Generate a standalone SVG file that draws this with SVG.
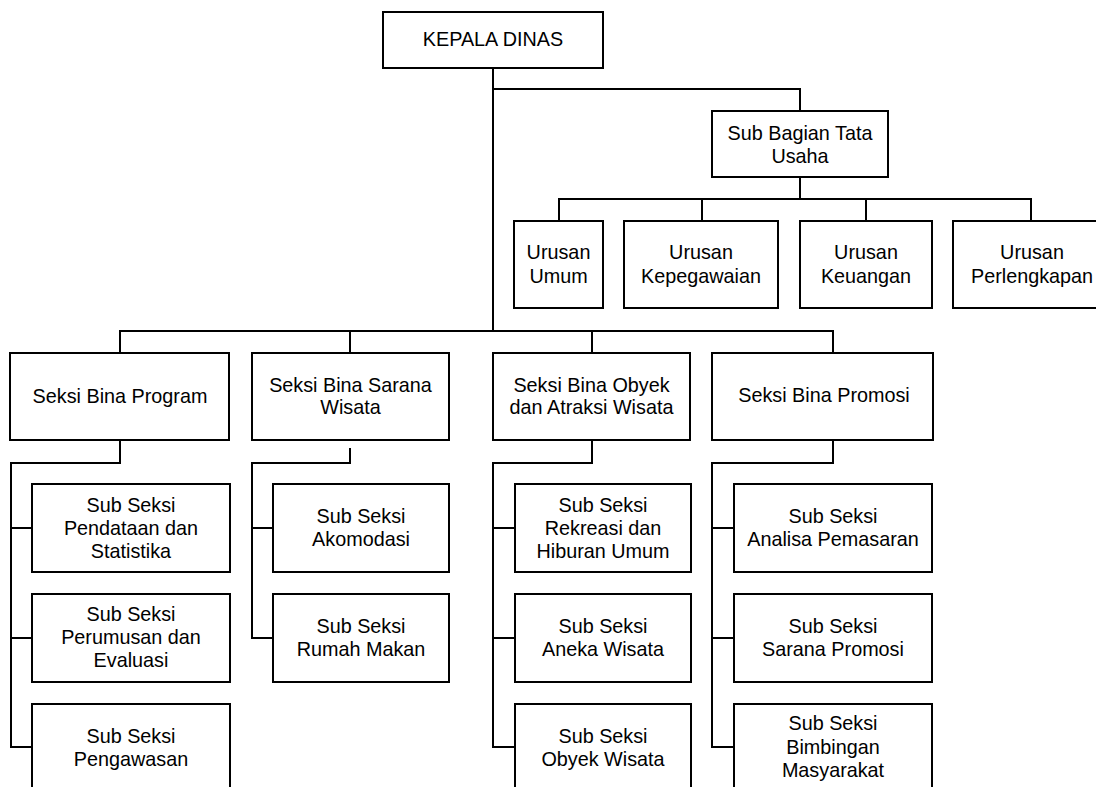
<svg xmlns="http://www.w3.org/2000/svg" width="1096" height="787" viewBox="0 0 1096 787">
<style>
.box{fill:#fff;stroke:#000;stroke-width:2}
.ln{fill:none;stroke:#000;stroke-width:2;stroke-linecap:square}
text{font-family:"Liberation Sans",Arial,sans-serif;font-size:19.8px;fill:#000;text-anchor:middle}
</style>
<rect width="1096" height="787" fill="#fff"/>
<g id="connectors">
<path class="ln" d="M493 68 V331 M493 89 H800 V111 M800 177 V199 M559 199 H1031 M559 199 V221 M702 199 V221 M866 199 V221 M1031 199 V221"/>
<path class="ln" d="M120 331 H833 M120 331 V353 M350 331 V353 M592 331 V353 M833 331 V353"/>
<path class="ln" d="M120 440 V463 H11 V747 M11 528 H32 M11 638 H32 M11 747 H32"/>
<path class="ln" d="M350 449 V463 H252 V638 M252 528 H273 M252 638 H273"/>
<path class="ln" d="M592 440 V463 H493 V747 M493 528 H515 M493 638 H515 M493 747 H515"/>
<path class="ln" d="M833 440 V463 H712 V747 M712 528 H734 M712 638 H734 M712 747 H734"/>
</g>
<g id="kepala"><rect class="box" x="383" y="12" width="220" height="56"/><text x="493" y="46">KEPALA DINAS</text></g>
<g id="subbag"><rect class="box" x="712" y="111" width="176" height="66"/><text x="800" y="140">Sub Bagian Tata</text><text x="800" y="163">Usaha</text></g>
<g id="umum"><rect class="box" x="514" y="221" width="89" height="87"/><text x="558.5" y="259">Urusan</text><text x="558.5" y="283">Umum</text></g>
<g id="kepegawaian"><rect class="box" x="624" y="221" width="154" height="87"/><text x="701" y="259">Urusan</text><text x="701" y="283">Kepegawaian</text></g>
<g id="keuangan"><rect class="box" x="800" y="221" width="132" height="87"/><text x="866" y="259">Urusan</text><text x="866" y="283">Keuangan</text></g>
<g id="perlengkapan"><rect class="box" x="953" y="221" width="160" height="87"/><text x="1032" y="259">Urusan</text><text x="1032" y="283">Perlengkapan</text></g>
<g id="program"><rect class="box" x="10" y="353" width="219" height="87"/><text x="120" y="403">Seksi Bina Program</text></g>
<g id="sarana"><rect class="box" x="252" y="353" width="197" height="87"/><text x="350.5" y="392">Seksi Bina Sarana</text><text x="350.5" y="414">Wisata</text></g>
<g id="obyek"><rect class="box" x="493" y="353" width="197" height="87"/><text x="591.5" y="392">Seksi Bina Obyek</text><text x="591.5" y="414">dan Atraksi Wisata</text></g>
<g id="promosi"><rect class="box" x="712" y="353" width="221" height="87"/><text x="824" y="402">Seksi Bina Promosi</text></g>
<g id="pendataan"><rect class="box" x="32" y="484" width="198" height="88"/><text x="131" y="512">Sub Seksi</text><text x="131" y="535">Pendataan dan</text><text x="131" y="558">Statistika</text></g>
<g id="perumusan"><rect class="box" x="32" y="594" width="198" height="88"/><text x="131" y="621">Sub Seksi</text><text x="131" y="644">Perumusan dan</text><text x="131" y="667">Evaluasi</text></g>
<g id="pengawasan"><rect class="box" x="32" y="704" width="198" height="100"/><text x="131" y="743">Sub Seksi</text><text x="131" y="766">Pengawasan</text></g>
<g id="akomodasi"><rect class="box" x="273" y="484" width="176" height="88"/><text x="361" y="523">Sub Seksi</text><text x="361" y="546">Akomodasi</text></g>
<g id="rumahmakan"><rect class="box" x="273" y="594" width="176" height="88"/><text x="361" y="633">Sub Seksi</text><text x="361" y="656">Rumah Makan</text></g>
<g id="rekreasi"><rect class="box" x="515" y="484" width="176" height="88"/><text x="603" y="512">Sub Seksi</text><text x="603" y="535">Rekreasi dan</text><text x="603" y="558">Hiburan Umum</text></g>
<g id="aneka"><rect class="box" x="515" y="594" width="176" height="88"/><text x="603" y="633">Sub Seksi</text><text x="603" y="656">Aneka Wisata</text></g>
<g id="obyekwisata"><rect class="box" x="515" y="704" width="176" height="100"/><text x="603" y="743">Sub Seksi</text><text x="603" y="766">Obyek Wisata</text></g>
<g id="analisa"><rect class="box" x="734" y="484" width="198" height="88"/><text x="833" y="523">Sub Seksi</text><text x="833" y="546">Analisa Pemasaran</text></g>
<g id="saranapromosi"><rect class="box" x="734" y="594" width="198" height="88"/><text x="833" y="633">Sub Seksi</text><text x="833" y="656">Sarana Promosi</text></g>
<g id="bimbingan"><rect class="box" x="734" y="704" width="198" height="100"/><text x="833" y="730">Sub Seksi</text><text x="833" y="754">Bimbingan</text><text x="833" y="777">Masyarakat</text></g>
</svg>
